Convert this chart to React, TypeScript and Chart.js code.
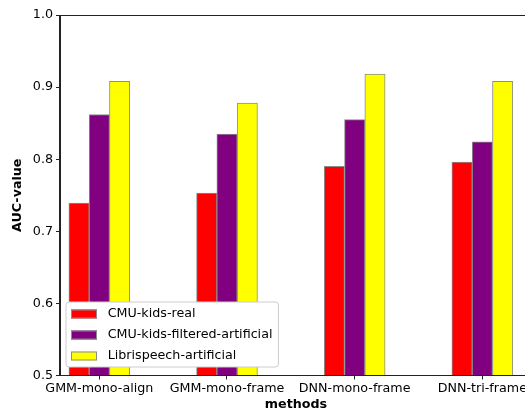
import React, { useEffect, useRef } from "react";
import { Chart, registerables } from "chart.js";

Chart.register(...registerables);

const categories = ["GMM-mono-align", "GMM-mono-frame", "DNN-mono-frame", "DNN-tri-frame"];
const seriesNames = ["CMU-kids-real", "CMU-kids-filtered-artificial", "Librispeech-artificial"];
const cmuKidsReal = [0.739, 0.753, 0.790, 0.796];
const cmuKidsFilteredArtificial = [0.862, 0.835, 0.855, 0.824];
const librispeechArtificial = [0.908, 0.878, 0.918, 0.908];
const seriesColors = ["#ff0000", "#800080", "#ffff00"];
const yTicks = [0.5, 0.6, 0.7, 0.8, 0.9, 1.0];

const FONT = "'DejaVu Sans', sans-serif";
const FS = 12.7;

const spinesAndLegend = {
  id: "spinesAndLegend",
  afterDatasetsDraw(chart: any) {
    const { ctx, chartArea } = chart;
    const { left, right, top, bottom } = chartArea;
    ctx.save();
    ctx.strokeStyle = "#222";
    ctx.lineWidth = 1;
    ctx.beginPath();
    const t = Math.round(top) + 0.5;
    const b = Math.floor(bottom) + 0.5;
    const l = Math.round(left) - 0.5;
    ctx.moveTo(l, t);
    ctx.lineTo(right + 5, t);
    ctx.moveTo(l, t);
    ctx.lineTo(l, b);
    ctx.lineTo(right + 5, b);
    ctx.stroke();

    // legend
    ctx.font = `${FS}px ${FONT}`;
    const labels = chart.data.datasets.map((d: any) => d.label);
    let maxW = 0;
    labels.forEach((s: string) => {
      maxW = Math.max(maxW, ctx.measureText(s).width);
    });
    const bx = left + 6;
    const bh = 65;
    const by = bottom - 8.5 - bh;
    const textX = bx + 41.7;
    const bw = textX - bx + maxW + 6;
    const r = 3;
    ctx.beginPath();
    ctx.moveTo(bx + r, by);
    ctx.lineTo(bx + bw - r, by);
    ctx.arcTo(bx + bw, by, bx + bw, by + r, r);
    ctx.lineTo(bx + bw, by + bh - r);
    ctx.arcTo(bx + bw, by + bh, bx + bw - r, by + bh, r);
    ctx.lineTo(bx + r, by + bh);
    ctx.arcTo(bx, by + bh, bx, by + bh - r, r);
    ctx.lineTo(bx, by + r);
    ctx.arcTo(bx, by, bx + r, by, r);
    ctx.closePath();
    ctx.fillStyle = "#ffffff";
    ctx.fill();
    ctx.strokeStyle = "#cccccc";
    ctx.stroke();

    chart.data.datasets.forEach((d: any, i: number) => {
      const cy = by + 12 + i * 21;
      ctx.fillStyle = d.backgroundColor;
      ctx.fillRect(bx + 5, cy - 4.5, 26, 9);
      ctx.strokeStyle = "#8c8c8c";
      ctx.strokeRect(bx + 5.5, cy - 4, 25, 8);
      ctx.fillStyle = "#000";
      ctx.textBaseline = "middle";
      ctx.textAlign = "left";
      ctx.fillText(d.label, textX, cy);
    });
    ctx.restore();
  },
};

export default function App() {
  const canvasRef = useRef<HTMLCanvasElement | null>(null);

  useEffect(() => {
    if (!canvasRef.current) return;
    const series = [cmuKidsReal, cmuKidsFilteredArtificial, librispeechArtificial];
    const chart = new Chart(canvasRef.current, {
      type: "bar",
      data: {
        datasets: series.map((vals, si) => ({
          label: seriesNames[si],
          data: vals.map((v, i) => ({ x: i, y: v })),
          backgroundColor: seriesColors[si],
          borderColor: "#8c8c8c",
          borderWidth: 1,
          barThickness: 20.3,
        })),
      },
      options: {
        animation: false,
        responsive: false,
        maintainAspectRatio: false,
        layout: { padding: { top: 15, left: 0, right: 0, bottom: 0 } },
        plugins: { legend: { display: false }, tooltip: { enabled: false } },
        scales: {
          x: {
            type: "linear",
            offset: false,
            min: -0.308,
            max: 3.389,
            afterBuildTicks: (scale: any) => {
              scale.ticks = categories.map((_, i) => ({ value: i }));
            },
            afterFit: (scale: any) => {
              scale.height = 36.5;
            },
            ticks: {
              autoSkip: false,
              maxRotation: 0,
              padding: 2,
              color: "#000",
              font: { family: FONT, size: FS },
              callback: (v: any) => categories[Math.round(Number(v))] ?? "",
            },
            grid: { display: true, offset: false, drawOnChartArea: false, drawTicks: true, tickLength: 4, color: "#222" },
            border: { display: true, color: "#222" },
            title: {
              display: true,
              text: "methods",
              color: "#000",
              font: { family: FONT, size: FS, weight: "bold", lineHeight: 1.2 },
              padding: { top: 0, bottom: 0 },
            },
          },
          y: {
            type: "linear",
            min: 0.5,
            max: 1.0,
            afterBuildTicks: (scale: any) => {
              scale.ticks = yTicks.map((v) => ({ value: v }));
            },
            afterFit: (scale: any) => {
              scale.width = 60;
            },
            ticks: {
              padding: 3,
              color: "#000",
              font: { family: FONT, size: FS },
              callback: (v: any) => Number(v).toFixed(1),
            },
            grid: { display: true, drawOnChartArea: false, drawTicks: true, tickLength: 4, color: "#222" },
            border: { display: true, color: "#222" },
            title: {
              display: true,
              text: "AUC-value",
              color: "#000",
              font: { family: FONT, size: FS, weight: "bold", lineHeight: 1.2 },
              padding: { top: 10, bottom: 0 },
            },
          },
        },
      },
      plugins: [spinesAndLegend],
    } as any);
    return () => chart.destroy();
  }, []);

  return (
    <div
      style={{
        position: "fixed",
        left: 0,
        top: 0,
        width: 525,
        height: 412,
        overflow: "hidden",
        background: "#fff",
      }}
    >
      <canvas ref={canvasRef} width={532} height={412} style={{ display: "block", width: 532, height: 412 }} />
    </div>
  );
}
